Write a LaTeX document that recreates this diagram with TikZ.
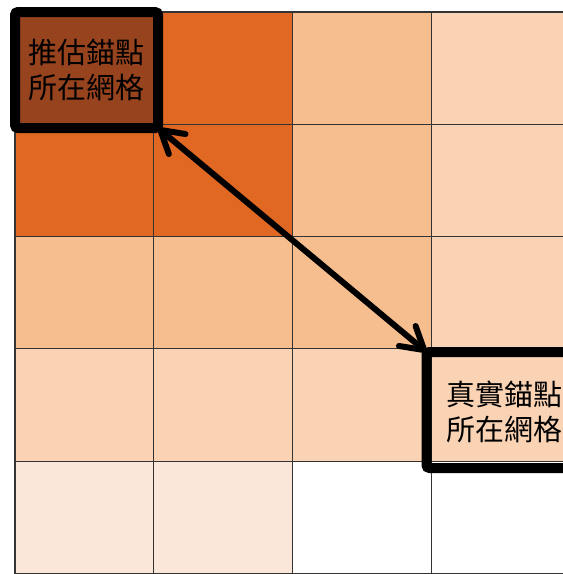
\documentclass[tikz,border=0pt]{standalone}
\usepackage{fontspec}
\newfontfamily\cjk{Noto Sans CJK TC}
\usetikzlibrary{arrows.meta}
\definecolor{cbrown}{HTML}{97431E}
\definecolor{cdark}{HTML}{E06823}
\definecolor{clight}{HTML}{F6BE8E}
\definecolor{clighter}{HTML}{FAD3B4}
\definecolor{cpale}{HTML}{FBE7D9}
\definecolor{cgrid}{HTML}{333333}
\tikzset{
  gridline/.style={draw=cgrid, line width=1.1pt},
  markbox/.style={draw=black, line width=10pt, rounded corners=3pt, outer sep=0pt, inner sep=0pt},
  lbl/.style={font=\cjk\fontsize{29}{35}\selectfont, align=left, inner sep=0pt},
  barb/.tip={Straight Barb[length=22pt,width=26pt,line width=6pt,round]},
  link/.style={line width=6pt, line cap=round, barb-barb}
}
\begin{document}
\begin{tikzpicture}[x=1pt,y=-1pt]
\useasboundingbox (0,0) rectangle (563,574);
\clip (0,0) rectangle (563,574);
% cell colours: rows top to bottom, columns left to right
\def\cw{138.7}
\def\rh{112.3}
\foreach \r/\c/\col in {
 0/0/cbrown,0/1/cdark,0/2/clight,0/3/clighter,
 1/0/cdark,1/1/cdark,1/2/clight,1/3/clighter,
 2/0/clight,2/1/clight,2/2/clight,2/3/clighter,
 3/0/clighter,3/1/clighter,3/2/clighter,3/3/clighter,
 4/0/cpale,4/1/cpale,4/2/white,4/3/white}{
  \fill[\col] ({15+\c*\cw},{12+\r*\rh}) rectangle ({15+(\c+1)*\cw},{12+(\r+1)*\rh});
}
% grid lines
\foreach \c in {0,1,2,3,4}{
  \draw[gridline] ({15+\c*\cw},12) -- ({15+\c*\cw},{12+5*\rh});
}
\foreach \r in {0,1,2,3,4,5}{
  \draw[gridline] (15,{12+\r*\rh}) -- (600,{12+\r*\rh});
}
% boxes
\node[markbox, fill=cbrown, minimum width=143pt, minimum height=116pt, lbl, align=center] (est) at (86.5,70) {推估錨點\\所在網格};
\node[markbox, minimum width=200pt, minimum height=116pt] (true) at (526.5,410) {};
\node[lbl, anchor=west] (truelbl) at (446,412) {真實錨點\\所在網格};
% arrow
\draw[link] (est.south east) -- (true.north west);
\end{tikzpicture}
\end{document}
